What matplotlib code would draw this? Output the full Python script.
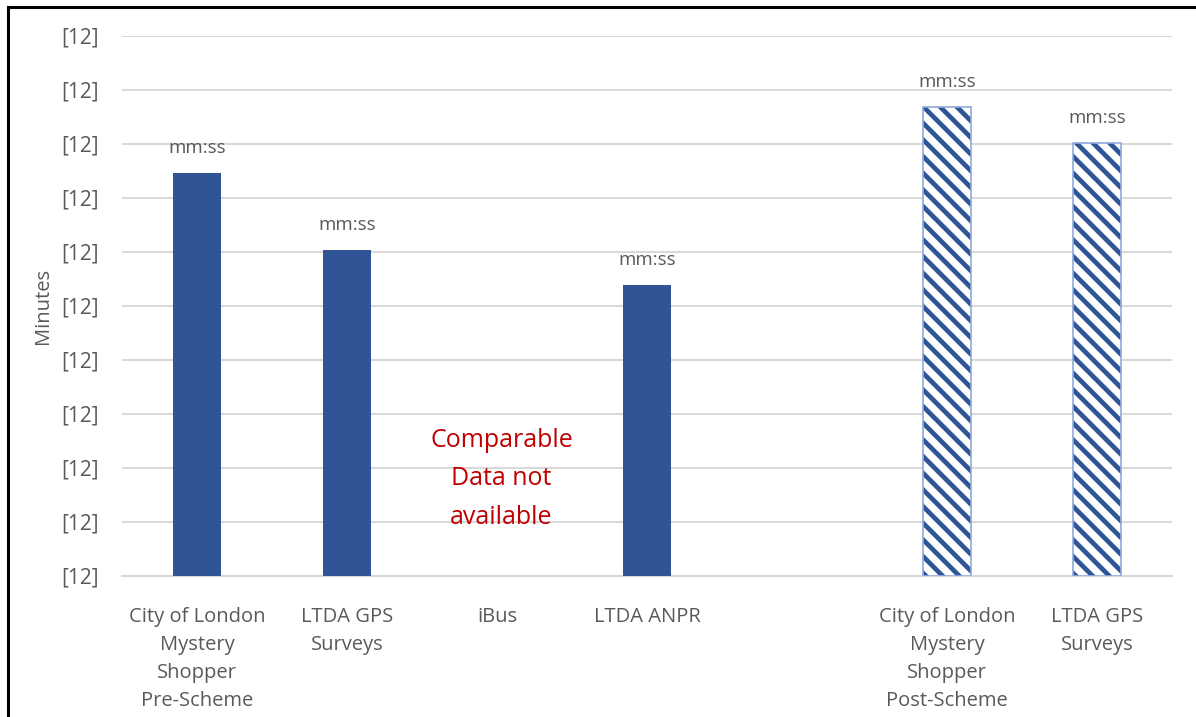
import matplotlib.pyplot as plt
from matplotlib.lines import Line2D

# dados (minutos, escala sem rótulos reais)
categorias = ["City of London\nMystery\nShopper\nPre-Scheme", "LTDA GPS\nSurveys", "iBus",
              "LTDA ANPR", "City of London\nMystery\nShopper\nPost-Scheme", "LTDA GPS\nSurveys"]
posicoes = [0, 1, 2, 3, 5, 6]
valores = [7.46, 6.04, 0, 5.39, 8.69, 8.02]
pos_scheme = [False, False, False, False, True, True]
rotulos = ["mm:ss", "mm:ss", "", "mm:ss", "mm:ss", "mm:ss"]
ticks_y = list(range(0, 11))

azul = "#2F5597"
cinza = "#595959"

plt.rcParams['font.family'] = ['Open Sans', 'DejaVu Sans']
plt.rcParams['hatch.linewidth'] = 3.4

fig = plt.figure(figsize=(11.96, 7.17), dpi=100)
ax = fig.add_axes([0.102, 0.1967, 0.878, 0.7531])

for x, v, post, r in zip(posicoes, valores, pos_scheme, rotulos):
    if v == 0:
        continue
    if post:
        # hachura azul e contorno azul-claro separados
        ax.bar(x, v, width=0.32, color="white", edgecolor=azul, hatch="\\\\", linewidth=0, zorder=3)
        ax.bar(x, v, width=0.32, fill=False, edgecolor="#8FAADC", linewidth=1.2, zorder=4)
    else:
        ax.bar(x, v, width=0.32, color=azul, zorder=3)
    ax.text(x, v + 0.3, r, ha="center", va="bottom", fontsize=13.5, color=cinza)

ax.text(2.03, 1.8, "Comparable\nData not\navailable", ha="center", va="center",
        fontsize=18, color="#C00000", linespacing=1.7)

ax.set_xlim(-0.5, 6.5)
ax.set_ylim(0, 10)
ax.set_yticks(ticks_y)
ax.set_yticklabels(["[12]"] * len(ticks_y))
ax.set_xticks(posicoes)
ax.set_xticklabels(categorias, linespacing=1.55)
ax.tick_params(axis="y", length=0, pad=17, labelsize=15, labelcolor=cinza)
ax.tick_params(axis="x", length=0, pad=22, labelsize=14.5, labelcolor=cinza)
ax.set_ylabel("Minutes", fontsize=14.5, color=cinza, labelpad=6)
ax.yaxis.grid(True, color="#D9D9D9", linewidth=1.5, zorder=0)
for lado in ["top", "right", "left"]:
    ax.spines[lado].set_visible(False)
ax.spines["bottom"].set_color("#D9D9D9")
ax.spines["bottom"].set_linewidth(1.5)

# moldura preta (esquerda e topo)
fig.add_artist(Line2D([8 / 1196, 8 / 1196], [0, 1 - 7 / 717], color="black", linewidth=2.2))
fig.add_artist(Line2D([8 / 1196, 1], [1 - 7 / 717, 1 - 7 / 717], color="black", linewidth=2.2))

fig.savefig("out.png", dpi=100)
